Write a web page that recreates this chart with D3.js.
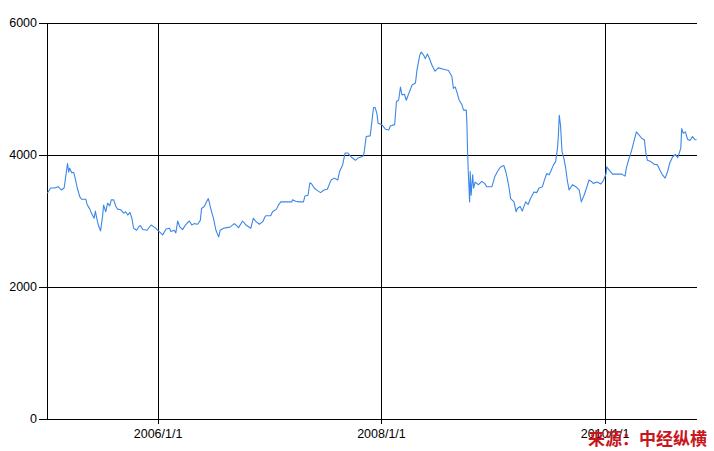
<!DOCTYPE html>
<html><head><meta charset="utf-8">
<script src="https://cdn.jsdelivr.net/npm/d3@7"></script>
<style>html,body{margin:0;padding:0;background:#fff;}svg{display:block;}</style>
</head><body>
<svg id="chart" width="714" height="451"></svg>
<script>
const dates = [
"2005-01-04","2005-01-15","2005-01-28","2005-02-08","2005-02-19","2005-02-28","2005-03-11","2005-03-15","2005-03-18","2005-03-25",
"2005-03-31","2005-04-04","2005-04-12","2005-04-20","2005-04-26","2005-05-10","2005-05-14","2005-05-23","2005-05-28","2005-06-06",
"2005-06-10","2005-06-17","2005-06-21","2005-06-27","2005-07-04","2005-07-07","2005-07-14","2005-07-20","2005-07-27","2005-08-01",
"2005-08-09","2005-08-16","2005-08-22","2005-09-01","2005-09-11","2005-09-17","2005-09-24","2005-10-01","2005-10-07","2005-10-13",
"2005-10-23","2005-10-31","2005-11-04","2005-11-12","2005-11-26","2005-12-09","2005-12-22","2006-01-02","2006-01-16","2006-01-27",
"2006-02-07","2006-02-12","2006-02-23","2006-02-28","2006-03-06","2006-03-13","2006-03-22","2006-04-02","2006-04-13","2006-04-21",
"2006-04-29","2006-05-10","2006-05-19","2006-05-23","2006-06-01","2006-06-06","2006-06-14","2006-06-17","2006-06-23","2006-07-01",
"2006-07-09","2006-07-18","2006-07-23","2006-08-03","2006-08-14","2006-08-25","2006-09-07","2006-09-12","2006-09-21","2006-10-04",
"2006-10-15","2006-10-31","2006-11-08","2006-11-17","2006-11-28","2006-12-09","2006-12-16","2006-12-19","2007-01-04","2007-01-10",
"2007-01-23","2007-01-29","2007-02-06","2007-02-22","2007-03-14","2007-03-16","2007-03-27","2007-04-07","2007-04-21","2007-04-26",
"2007-05-06","2007-05-12","2007-05-18","2007-05-26","2007-06-06","2007-06-16","2007-06-27","2007-07-08","2007-07-20","2007-07-31",
"2007-08-11","2007-08-17","2007-08-27","2007-09-04","2007-09-13","2007-09-24","2007-10-08","2007-10-15","2007-11-01","2007-11-05",
"2007-11-12","2007-11-25","2007-11-30","2007-12-06","2007-12-11","2007-12-17","2007-12-21","2008-01-02","2008-01-14","2008-01-25",
"2008-01-30","2008-02-13","2008-02-19","2008-02-26","2008-03-03","2008-03-08","2008-03-16","2008-03-22","2008-03-30","2008-04-10",
"2008-04-21","2008-04-26","2008-05-05","2008-05-10","2008-05-18","2008-05-23","2008-05-30","2008-06-05","2008-06-14","2008-06-24",
"2008-07-05","2008-07-22","2008-08-07","2008-08-18","2008-08-23","2008-08-29","2008-09-03","2008-09-11","2008-09-20","2008-09-25",
"2008-10-04","2008-10-06","2008-10-08","2008-10-11","2008-10-15","2008-10-17","2008-10-20","2008-10-25","2008-10-28","2008-11-02",
"2008-11-13","2008-11-24","2008-12-03","2008-12-10","2008-12-27","2009-01-05","2009-01-14","2009-01-21","2009-01-28","2009-02-04",
"2009-02-10","2009-02-15","2009-02-21","2009-02-26","2009-03-09","2009-03-16","2009-03-20","2009-03-29","2009-04-05","2009-04-16",
"2009-04-24","2009-05-02","2009-05-13","2009-05-22","2009-05-30","2009-06-10","2009-06-15","2009-06-24","2009-07-02","2009-07-07",
"2009-07-16","2009-07-23","2009-07-29","2009-08-01","2009-08-04","2009-08-08","2009-08-13","2009-08-19","2009-08-25","2009-08-30",
"2009-09-05","2009-09-16","2009-09-27","2009-10-08","2009-10-15","2009-10-24","2009-11-01","2009-11-09","2009-11-17","2009-11-23",
"2009-12-06","2009-12-17","2009-12-26","2010-01-04","2010-01-06","2010-01-14","2010-01-25","2010-02-10","2010-02-24","2010-03-07",
"2010-03-11","2010-03-20","2010-03-29","2010-04-06","2010-04-13","2010-04-22","2010-05-01","2010-05-09","2010-05-14","2010-05-19",
"2010-05-30","2010-06-10","2010-06-21","2010-06-29","2010-07-07","2010-07-16","2010-07-24","2010-07-31","2010-08-09","2010-08-18",
"2010-08-26","2010-09-05","2010-09-08","2010-09-13","2010-09-20","2010-09-27","2010-10-05","2010-10-13","2010-10-22","2010-10-27"
];
const values = [
3420,3500,3500,3520,3470,3500,3870,3740,3800,3730,
3740,3670,3500,3370,3330,3330,3250,3180,3120,3040,
3150,2990,2920,2850,3090,3240,3140,3270,3230,3320,
3320,3220,3180,3170,3120,3140,3090,3130,3050,2890,
2860,2920,2930,2870,2860,2940,2900,2850,2790,2880,
2890,2840,2860,2820,3000,2910,2870,2950,3000,2940,
2960,2950,3010,3190,3220,3270,3340,3290,3170,3040,
2860,2760,2860,2890,2900,2910,2960,2940,2900,3000,
2940,2890,3040,2990,2950,2990,3060,3080,3080,3140,
3180,3240,3290,3290,3290,3320,3300,3290,3290,3380,
3390,3580,3560,3500,3460,3430,3470,3480,3620,3650,
3620,3750,3850,4030,4030,3970,3920,3950,3980,4030,
4280,4290,4480,4720,4720,4630,4480,4460,4390,4380,
4440,4460,4810,4830,5030,4910,4920,4830,4930,5060,
5090,5290,5510,5560,5510,5460,5530,5470,5360,5270,
5320,5300,5280,5190,5010,5030,4960,4830,4760,4680,
4680,4500,4100,3700,3290,3750,3390,3700,3500,3590,
3550,3600,3570,3520,3520,3670,3750,3800,3830,3840,
3750,3650,3500,3340,3290,3140,3190,3220,3150,3290,
3250,3340,3440,3430,3500,3520,3600,3720,3700,3750,
3850,3900,4100,4300,4600,4450,4050,3950,3800,3620,
3470,3550,3520,3470,3290,3390,3500,3620,3600,3570,
3590,3560,3610,3720,3820,3770,3710,3710,3710,3680,
3800,3950,4080,4230,4350,4300,4250,4230,4030,3920,
3900,3860,3850,3770,3700,3650,3750,3880,3970,4010,
3960,4100,4400,4330,4350,4240,4220,4280,4230,4230
];
const yTicks = [0, 2000, 4000, 6000];
const xTickDates = ["2006-01-01", "2008-01-01", "2010-01-01"];
const xTickLabels = ["2006/1/1", "2008/1/1", "2010/1/1"];
const xDomain = ["2005-01-03", "2010-10-28"];
const sourceText = "来源：中经纵横";

const parse = d3.timeParse("%Y-%m-%d");
const data = dates.map((d, i) => ({ date: parse(d), value: values[i] }));

const svg = d3.select("#chart");
const mLeft = 47, mRight = 697, mTop = 23, mBottom = 419;

const x = d3.scaleTime().domain(xDomain.map(parse)).range([mLeft, mRight]);
const y = d3.scaleLinear().domain([0, 6000]).range([mBottom, mTop]);

// horizontal gridlines (with outward tick)
svg.append("g").selectAll("line").data(yTicks).join("line")
  .attr("x1", mLeft - 8).attr("x2", mRight)
  .attr("y1", d => Math.round(y(d)) + 0.5).attr("y2", d => Math.round(y(d)) + 0.5)
  .attr("stroke", "#000").attr("stroke-width", 1).attr("shape-rendering", "crispEdges");

// vertical gridlines
const xt = xTickDates.map(parse);
svg.append("g").selectAll("line").data(xt).join("line")
  .attr("x1", d => Math.round(x(d)) + 0.5).attr("x2", d => Math.round(x(d)) + 0.5)
  .attr("y1", mTop).attr("y2", mBottom + 5)
  .attr("stroke", "#000").attr("stroke-width", 1).attr("shape-rendering", "crispEdges");

// y axis line
svg.append("line").attr("x1", mLeft + 0.5).attr("x2", mLeft + 0.5).attr("y1", mTop).attr("y2", mBottom)
  .attr("stroke", "#000").attr("shape-rendering", "crispEdges");

// y tick labels
svg.append("g").selectAll("text").data(yTicks).join("text")
  .attr("x", mLeft - 10).attr("y", d => y(d)).attr("dy", "0.35em")
  .attr("text-anchor", "end")
  .style("font-family", "'Liberation Sans', Arial, sans-serif").style("font-size", "12.5px")
  .attr("fill", "#000").text(d => d);

// x tick labels
svg.append("g").selectAll("text").data(xt).join("text")
  .attr("x", d => x(d)).attr("y", mBottom + 15).attr("dy", "0.35em")
  .attr("text-anchor", "middle")
  .style("font-family", "'Liberation Sans', Arial, sans-serif").style("font-size", "12.5px")
  .attr("fill", "#000").text((d, i) => xTickLabels[i]);

// line
const line = d3.line().x(d => x(d.date)).y(d => y(d.value));
svg.append("path").datum(data)
  .attr("d", line).attr("fill", "none")
  .attr("stroke", "#3b87e8").attr("stroke-width", 1.1).attr("stroke-linejoin", "round");

// source watermark (drawn over the last x label, as in the reference)
svg.append("text").attr("x", 707).attr("y", 445).attr("text-anchor", "end")
  .style("font-family", "'Noto Sans CJK SC', sans-serif").style("font-size", "17px").style("font-weight", "bold")
  .attr("fill", "#c8161d").text(sourceText);
</script>
</body></html>
